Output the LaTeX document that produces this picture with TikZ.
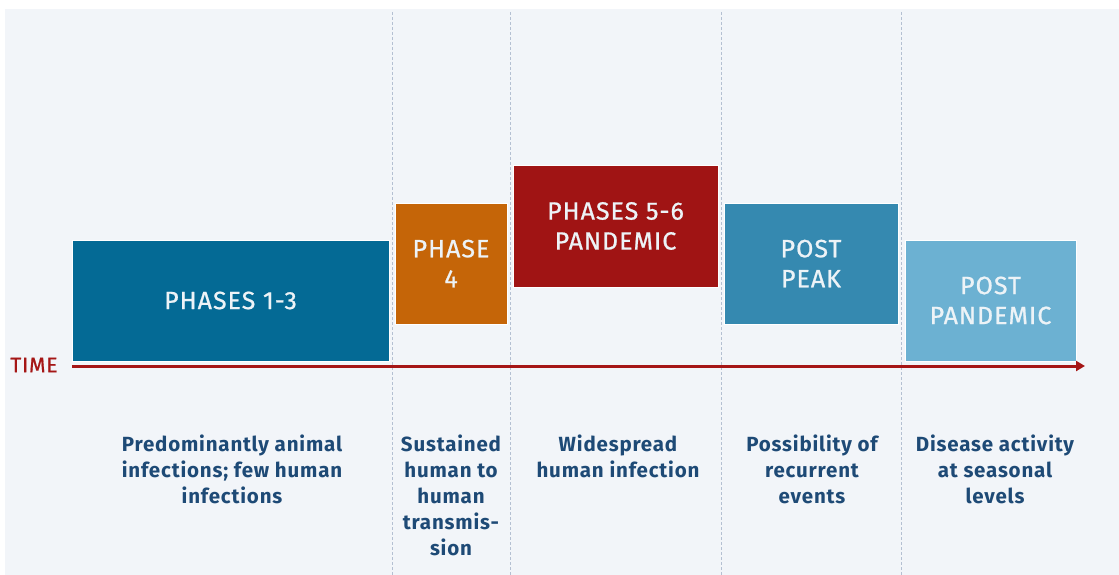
\documentclass[tikz,border=0pt]{standalone}
\usepackage{fontspec}
\setmainfont{Fira Sans}
\newfontfamily\labelfont{Fira Sans}[FakeBold=0.8,LetterSpace=4]
\newfontfamily\descfont{Fira Sans}[LetterSpace=4]
\usetikzlibrary{arrows.meta}
\definecolor{panel}{HTML}{F2F5F9}
\definecolor{gridline}{HTML}{B4C0D2}
\definecolor{early}{HTML}{046A95}
\definecolor{alert}{HTML}{C56508}
\definecolor{pandemic}{HTML}{A01414}
\definecolor{peak}{HTML}{3589B0}
\definecolor{after}{HTML}{6CB1D2}
\definecolor{timeline}{HTML}{A51616}
\definecolor{desc}{HTML}{1E4A76}
\definecolor{boxtext}{HTML}{EDF3F7}
\tikzset{
  phasebox/.style={draw=white, line width=0.6pt, inner sep=0pt, text=boxtext,
    font=\labelfont\fontsize{25}{30}\selectfont, align=center},
  desctext/.style={anchor=north, text=desc, align=center,
    font=\descfont\bfseries\fontsize{20.5}{26}\selectfont, inner sep=0pt},
  divider/.style={draw=gridline, line width=0.8pt, dash pattern=on 3pt off 2pt},
}
\begin{document}
\begin{tikzpicture}[x=1pt,y=-1pt]
  \useasboundingbox (0,0) rectangle (1119,575);
  % background panel
  \fill[panel] (5,9) rectangle (1119,575);
  % column dividers
  \foreach \xx/\nm in {392/d1,510/d2,721/d3,901/d4}{
    \coordinate (\nm top) at (\xx,12);
    \coordinate (\nm bot) at (\xx,575);
    \draw[divider] (\nm top) -- (\nm bot);
  }
  % phase boxes
  \node[phasebox, fill=early, minimum width=317pt, minimum height=121pt] (p13) at (230.5,300.5) {PHASES 1-3};
  \node[phasebox, fill=alert, minimum width=112pt, minimum height=121pt] (p4) at (451,263.5) {PHASE\\4};
  \node[phasebox, fill=pandemic, minimum width=205pt, minimum height=122pt] (p56) at (615.5,226) {PHASES 5-6\\PANDEMIC};
  \node[phasebox, fill=peak, minimum width=174pt, minimum height=121pt] (pp) at (811,263.5) {POST\\PEAK};
  \node[phasebox, fill=after, minimum width=171pt, minimum height=121pt] (ppd) at (990.5,300.5) {POST\\PANDEMIC};
  % time axis
  \coordinate (t0) at (72,366);
  \coordinate (t1) at (1085,366);
  \draw[timeline, line width=3pt, -{Triangle[length=9pt,width=10pt]}] (t0) -- (t1);
  \node[text=timeline, font=\labelfont\fontsize{21}{24}\selectfont, inner sep=0pt] (time) at (34,365) {TIME};
  % descriptions
  \node[desctext] (c1) at (232,435) {Predominantly animal\\infections; few human\\infections};
  \node[desctext] (c2) at (451,435) {Sustained\\human to\\human\\transmis-\\sion};
  \node[desctext] (c3) at (618,435) {Widespread\\human infection};
  \node[desctext] (c4) at (812,435) {Possibility of\\recurrent\\events};
  \node[desctext] (c5) at (995,435) {Disease activity\\at seasonal\\levels};
\end{tikzpicture}
\end{document}
